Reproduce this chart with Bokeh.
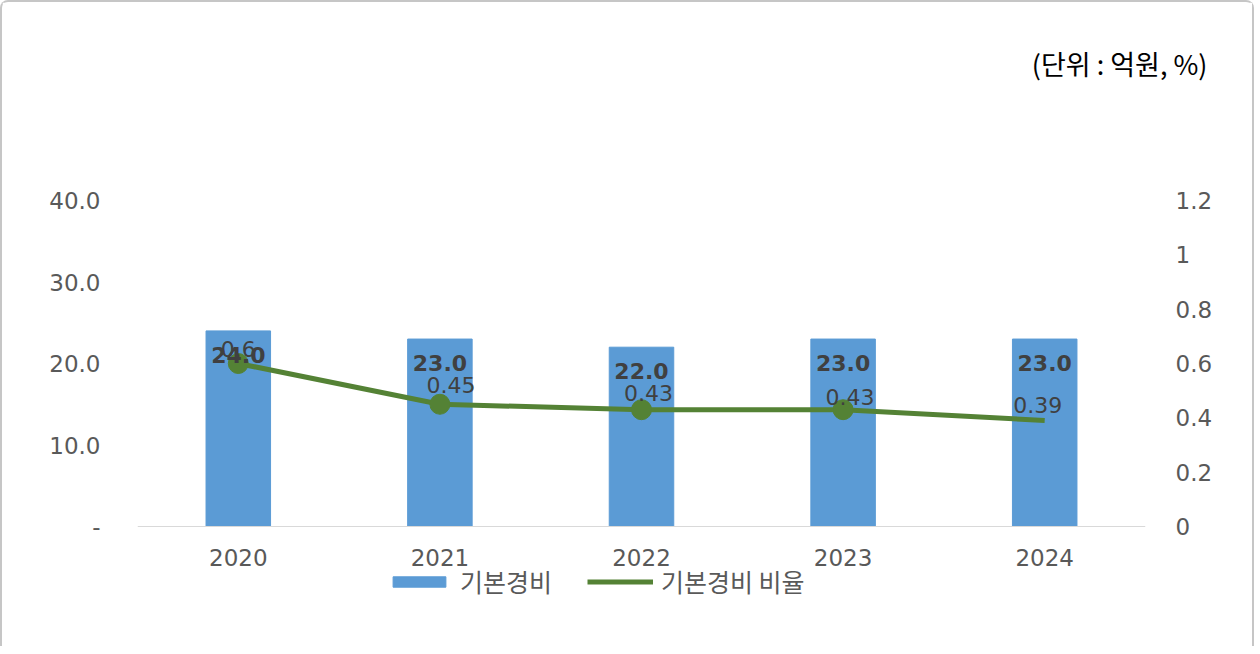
from bokeh.plotting import figure
from bokeh.models import (ColumnDataSource, Range1d, LinearAxis, FixedTicker, Legend,
                          LegendItem, Title, CDSView, IndexFilter, FactorRange, Span)
from bokeh.core.properties import value
from bokeh.embed import file_html
from bokeh.resources import INLINE

years = ["2020", "2021", "2022", "2023", "2024"]
basic_cost = [24.0, 23.0, 22.0, 23.0, 23.0]
basic_ratio = [0.6, 0.45, 0.43, 0.43, 0.39]
ratio_labels = ["0.6", "0.45", "0.43", "0.43", "0.39"]
left_ticks = [0, 10, 20, 30, 40]
left_tick_labels = ["-", "10.0", "20.0", "30.0", "40.0"]
right_ticks = [0, 0.2, 0.4, 0.6, 0.8, 1, 1.2]
right_tick_labels = ["0", "0.2", "0.4", "0.6", "0.8", "1", "1.2"]
unit_text = "(단위 : 억원, %)"
bar_name = "기본경비"
line_name = "기본경비 비율"

# label offsets (screen px) for ratio labels
ratio_dx = [0, 11, 7, 7, -7]
ratio_dy = [-15, -19, -17, -13, -16]

NUM_FONT = "DejaVu Sans"
KR_FONT = "Noto Sans CJK KR"
TXT = "#595959"
BAR_C = "#5b9bd5"
LINE_C = "#548235"

# vertical layout: 326 px for 0..40, plus 120 px below zero for the category labels + legend
PX_PER_UNIT = 326 / 40
BELOW = 120 / PX_PER_UNIT
Y_MAX, R_MAX = 40, 1.2

src = ColumnDataSource(dict(
    year=years, cost=basic_cost, cost_lbl=[f"{v:.1f}" for v in basic_cost],
    ratio=basic_ratio, ratio_lbl=ratio_labels, dx=ratio_dx, dy=ratio_dy,
    zero=[0] * len(years)))

p = figure(frame_width=1008, frame_height=446, x_range=FactorRange(factors=years),
           y_range=Range1d(-BELOW, Y_MAX), output_backend="svg", toolbar_location=None,
           x_axis_location=None,
           min_border_left=135, min_border_right=107, min_border_top=198, min_border_bottom=0)
p.styles = {"border-top": "2px solid #c6c6c6", "border-left": "2px solid #c6c6c6",
            "border-right": "2px solid #c6c6c6", "border-radius": "8px 8px 0 0"}
p.extra_y_ranges = {"ratio": Range1d(-BELOW * R_MAX / Y_MAX, R_MAX)}
p.outline_line_color = None
p.xgrid.grid_line_color = None
p.ygrid.grid_line_color = None

# category axis line at zero
p.add_layout(Span(location=0, dimension="width", line_color="#d9d9d9", line_width=1))

bars = p.vbar(x="year", top="cost", width=0.32, source=src, fill_color=BAR_C,
              line_color=BAR_C)
line = p.line(x="year", y="ratio", source=src, y_range_name="ratio",
              line_color=LINE_C, line_width=5)
p.scatter(x="year", y="ratio", source=src, y_range_name="ratio", size=20,
          fill_color=LINE_C, line_color=LINE_C,
          view=CDSView(filter=IndexFilter([0, 1, 2, 3])))

p.text(x="year", y="cost", text="cost_lbl", source=src, y_offset=24,
       text_align="center", text_baseline="middle", text_font=value(NUM_FONT),
       text_font_size="22px", text_font_style="bold", text_color="#404040")
p.text(x="year", y="ratio", text="ratio_lbl", source=src, y_range_name="ratio",
       x_offset="dx", y_offset="dy", text_align="center", text_baseline="middle",
       text_font=value(NUM_FONT), text_font_size="22px", text_color="#404040")
# category labels
p.text(x="year", y="zero", text="year", source=src, y_offset=31,
       text_align="center", text_baseline="middle", text_font=value(NUM_FONT),
       text_font_size="23px", text_color=TXT)

# axes
ya = p.yaxis[0]
ya.ticker = FixedTicker(ticks=left_ticks)
ya.major_label_overrides = {t: l for t, l in zip(left_ticks, left_tick_labels)}
ya.axis_line_color = None
ya.major_tick_line_color = None
ya.minor_tick_line_color = None
ya.major_label_standoff = 31
ya.major_label_text_font = NUM_FONT
ya.major_label_text_font_size = "23px"
ya.major_label_text_color = TXT

ry = LinearAxis(y_range_name="ratio", ticker=FixedTicker(ticks=right_ticks))
ry.major_label_overrides = {t: l for t, l in zip(right_ticks, right_tick_labels)}
ry.axis_line_color = None
ry.major_tick_line_color = None
ry.minor_tick_line_color = None
ry.major_label_standoff = 24
ry.major_label_text_font = NUM_FONT
ry.major_label_text_font_size = "23px"
ry.major_label_text_color = TXT
p.add_layout(ry, "right")

legend = Legend(items=[LegendItem(label=bar_name, renderers=[bars]),
                       LegendItem(label=line_name, renderers=[line])],
                orientation="horizontal", location=(249, 47),
                label_text_font=KR_FONT, label_text_font_size="25px",
                label_text_color=TXT, glyph_width=66, glyph_height=13,
                label_standoff=8, spacing=35, padding=0, margin=0,
                border_line_color=None, background_fill_alpha=0)
p.add_layout(legend, "center")

spacer = Title(text=" ", text_font_size="10px", standoff=100)
p.add_layout(spacer, "above")
t = Title(text=unit_text, align="right", text_font=KR_FONT, text_font_size="27px",
          text_font_style="normal", text_color="#000000", offset=-62)
p.add_layout(t, "above")

open("out.html", "w").write(file_html(p, INLINE))
